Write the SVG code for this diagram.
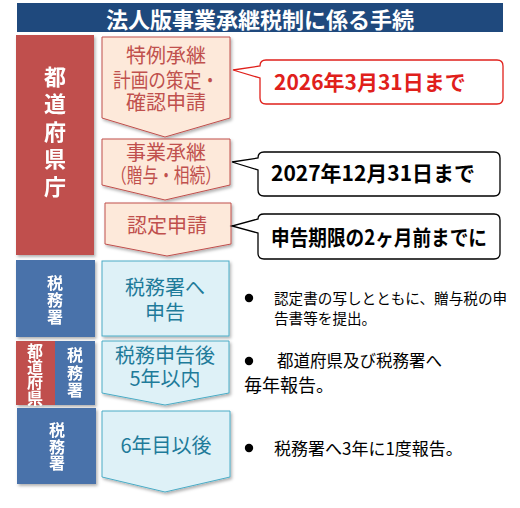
<svg xmlns="http://www.w3.org/2000/svg" width="520" height="508" viewBox="0 0 520 508">
<defs>
<filter id="sh" x="-10%" y="-10%" width="130%" height="130%">
<feDropShadow dx="1.5" dy="2" stdDeviation="1.5" flood-color="#000" flood-opacity="0.3"/>
</filter>
<style>
text{font-family:"Noto Sans CJK JP","Noto Sans",sans-serif;}
.title{font-size:22px;font-weight:bold;fill:#fff;text-anchor:middle;}
.lab{fill:#fff;font-weight:bold;text-anchor:middle;writing-mode:vertical-rl;}
.red{fill:#C0504D;}
.blue{fill:#4A72AA;}
.pink{fill:#FDE9DA;stroke:#C0504D;stroke-width:1;}
.pinkt{fill:#C0504D;font-size:20px;text-anchor:middle;}
.lb{fill:#DEF1F7;stroke:#4BACC6;stroke-width:1;}
.lbt{fill:#1E7B9A;font-size:20px;text-anchor:middle;}
.call{fill:#fff;stroke-width:1.3;}
.ct{font-size:21px;font-weight:bold;}
.note{fill:#000;}
</style>
</defs>

<g id="title">
<rect x="17" y="3" width="486" height="29" fill="#1F497D"/>
<text class="title" x="260" y="27.5">法人版事業承継税制に係る手続</text>
</g>

<g id="pref-col" filter="url(#sh)">
<rect class="red" x="16" y="35" width="78" height="220"/>
<text class="lab" font-size="22" letter-spacing="5.5" x="55" y="134">都道府県庁</text>
</g>

<g id="step1">
<path class="pink" filter="url(#sh)" d="M102,37 H230 V118 L165,137 L102,118 Z"/>
<text class="pinkt"><tspan x="166" y="62.6">特例承継</tspan><tspan x="166" y="87.6" textLength="106" lengthAdjust="spacingAndGlyphs">計画の策定・</tspan><tspan x="166" y="110">確認申請</tspan></text>
</g>

<g id="step2">
<path class="pink" filter="url(#sh)" d="M102,139 H230 V185 L165,200 L102,185 Z"/>
<text class="pinkt"><tspan x="166" y="159.6">事業承継</tspan><tspan x="166" y="182.6" textLength="110" lengthAdjust="spacingAndGlyphs">（贈与・相続）</tspan></text>
</g>

<g id="step3">
<path class="pink" filter="url(#sh)" d="M105,203 H231 V244 L167,256 L105,244 Z"/>
<text class="pinkt" x="167" y="232.6">認定申請</text>
</g>

<g id="tax-col1" filter="url(#sh)">
<rect class="blue" x="16" y="260" width="79" height="77"/>
<text class="lab" font-size="16" letter-spacing="1" x="55" y="300">税務署</text>
</g>

<g id="step4">
<rect class="lb" filter="url(#sh)" x="102" y="261" width="127" height="75"/>
<text class="lbt"><tspan x="165" y="294.6">税務署へ</tspan><tspan x="165" y="319.6">申告</tspan></text>
</g>

<g id="pref-tax-col" filter="url(#sh)">
<rect class="red" x="16" y="341" width="39" height="64"/>
<rect class="blue" x="55" y="341" width="40" height="64"/>
<text class="lab" font-size="16" letter-spacing="-0.5" x="35" y="374">都道府県</text>
<text class="lab" font-size="16" letter-spacing="1.5" x="75" y="373.5">税務署</text>
</g>

<g id="step5">
<path class="lb" filter="url(#sh)" d="M102,341 H229 V393 L165,405 L102,393 Z"/>
<text class="lbt"><tspan x="165" y="362.6">税務申告後</tspan><tspan x="165" y="385.6">5年以内</tspan></text>
</g>

<g id="tax-col2" filter="url(#sh)">
<rect class="blue" x="17" y="408" width="79" height="76"/>
<text class="lab" font-size="16" letter-spacing="0.5" x="57" y="447">税務署</text>
</g>

<g id="step6">
<path class="lb" filter="url(#sh)" d="M102,411 H230 V477 L165,492 L102,477 Z"/>
<text class="lbt" x="166" y="452.6">6年目以後</text>
</g>

<g id="connectors">
<path class="call" stroke="#E0201B" d="M266,60 H497 Q503,60 503,66 V98 Q503,104 497,104 H266 Q260,104 260,98 V78 L233,70 L260,66 Q260,60 266,60 Z"/>
<path class="call" stroke="#000" d="M264,152 H494 Q500,152 500,158 V190 Q500,196 494,196 H264 Q258,196 258,190 V170 L232,162 L258,158 Q258,152 264,152 Z"/>
<path class="call" stroke="#000" d="M264,214 H494 Q500,214 500,220 V253 Q500,259 494,259 H264 Q258,259 258,253 V233 L232,226 L258,219 Q258,214 264,214 Z"/>
</g>

<g id="deadline1">
<text class="ct" x="274" y="90" fill="#E0201B">2026年3月31日まで</text>
</g>
<g id="deadline2">
<text class="ct" x="271" y="181" fill="#000">2027年12月31日まで</text>
</g>
<g id="deadline3">
<text class="ct" x="271" y="244.5" fill="#000" font-size="20" textLength="216" lengthAdjust="spacingAndGlyphs">申告期限の2ヶ月前までに</text>
</g>

<g id="note1">
<circle cx="249" cy="298" r="4.2" fill="#000"/>
<text class="note" font-size="14.6"><tspan x="274" y="303.5">認定書の写しとともに、贈与税の申</tspan><tspan x="274" y="323.5">告書等を提出。</tspan></text>
</g>
<g id="note2">
<circle cx="249" cy="361" r="4.2" fill="#000"/>
<text class="note"><tspan font-size="16.5" x="277" y="367.3">都道府県及び税務署へ</tspan><tspan font-size="18" x="244" y="391.8">毎年報告。</tspan></text>
</g>
<g id="note3">
<circle cx="249" cy="448" r="4.2" fill="#000"/>
<text class="note" font-size="17" x="274" y="454.5">税務署へ3年に1度報告。</text>
</g>
</svg>
